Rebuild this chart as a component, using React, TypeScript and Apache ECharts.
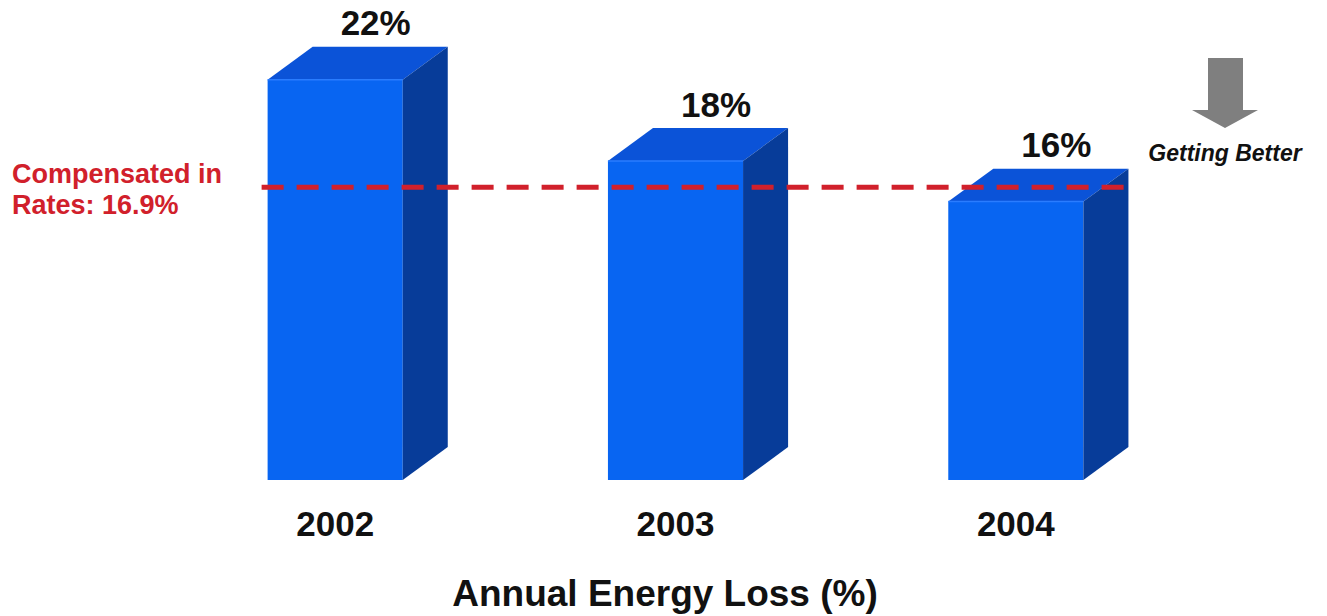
import React, { useEffect, useRef } from "react";
import * as echarts from "echarts";

const categories: string[] = ["2002", "2003", "2004"];
const lossValues: number[] = [22, 18, 16];
const compensatedRate: number = 16.9;
const yMin = 2.3;
const yMax = 24;

const FRONT = "#0865f2";
const TOP = "#0b53d8";
const SIDE = "#073c99";
const RED = "#d1202b";
const FONT = "'Liberation Sans', Arial, sans-serif";

export default function App() {
  const ref = useRef<HTMLDivElement>(null);

  useEffect(() => {
    if (!ref.current) return;
    const chart = echarts.init(ref.current, undefined, { renderer: "svg" });

    const barGeom = (api: any, idx: number, val: number) => {
      const top = api.coord([idx, val]);
      const bot = api.coord([idx, yMin]);
      const band = api.size([1, 0])[0];
      const w = band * 0.397;
      const dx = w / 3;
      const dy = dx * 0.73;
      return { cx: top[0], yT: top[1], yB: bot[1], w, dx, dy };
    };

    const option: any = {
      animation: false,
      backgroundColor: "#ffffff",
      grid: { left: 165, right: 141, top: 39, bottom: 136 },
      xAxis: {
        type: "category",
        data: categories,
        axisLine: { show: false },
        axisTick: { show: false },
        axisLabel: {
          margin: 26,
          fontSize: 35,
          fontWeight: "bold",
          color: "#111111",
          fontFamily: FONT,
        },
      },
      yAxis: {
        type: "value",
        min: yMin,
        max: yMax,
        show: false,
        splitLine: { show: false },
      },
      series: [
        {
          type: "custom",
          data: categories.map((c, i) => [i, lossValues[i]]),
          renderItem: (params: any, api: any) => {
            const idx = api.value(0);
            const val = api.value(1);
            const g = barGeom(api, idx, val);
            const x0 = g.cx - g.w / 2;
            const x1 = g.cx + g.w / 2;
            return {
              type: "group",
              children: [
                {
                  type: "rect",
                  shape: { x: x0, y: g.yT, width: g.w, height: g.yB - g.yT },
                  style: { fill: FRONT },
                },
                {
                  type: "polygon",
                  shape: {
                    points: [
                      [x0, g.yT],
                      [x1, g.yT],
                      [x1 + g.dx, g.yT - g.dy],
                      [x0 + g.dx, g.yT - g.dy],
                    ],
                  },
                  style: { fill: TOP },
                },
                {
                  type: "polygon",
                  shape: {
                    points: [
                      [x1, g.yT],
                      [x1 + g.dx, g.yT - g.dy],
                      [x1 + g.dx, g.yB - g.dy],
                      [x1, g.yB],
                    ],
                  },
                  style: { fill: SIDE },
                },
                {
                  type: "line",
                  shape: { x1: x0, y1: g.yT, x2: x1, y2: g.yT },
                  style: { stroke: "#2a7cff", lineWidth: 1.5 },
                },
                {
                  type: "text",
                  style: {
                    x: g.cx + g.dx * 0.9,
                    y: g.yT - g.dy - 24,
                    text: val + "%",
                    fill: "#111111",
                    fontSize: 35,
                    fontWeight: "bold",
                    fontFamily: FONT,
                    align: "center",
                    verticalAlign: "middle",
                  },
                },
              ],
            };
          },
          z: 2,
        },
        {
          type: "custom",
          data: [[0, compensatedRate]],
          renderItem: (params: any, api: any) => {
            const val = api.value(1);
            const first = barGeom(api, 0, val);
            const last = barGeom(api, categories.length - 1, val);
            const xs = first.cx - first.w / 2 - 6;
            const xe = last.cx + last.w / 2 + last.dx;
            return {
              type: "line",
              shape: { x1: xs, y1: first.yT + 4, x2: xe, y2: first.yT + 4 },
              style: { stroke: RED, lineWidth: 5, lineDash: [22, 13] },
            };
          },
          z: 5,
        },
      ],
      graphic: [
        {
          type: "text",
          left: 12,
          top: 158,
          style: {
            text: "Compensated in\nRates: 16.9%",
            fill: RED,
            fontSize: 27,
            lineHeight: 31,
            fontWeight: "bold",
            fontFamily: FONT,
          },
        },
        {
          type: "text",
          x: 1225,
          y: 153,
          style: {
            text: "Getting Better",
            fill: "#111111",
            fontSize: 23,
            fontWeight: "bold",
            fontStyle: "italic",
            fontFamily: FONT,
            align: "center",
            verticalAlign: "middle",
          },
        },
        {
          type: "polygon",
          shape: {
            points: [
              [1208, 58],
              [1243, 58],
              [1243, 110],
              [1258, 110],
              [1225, 128],
              [1192, 110],
              [1208, 110],
            ],
          },
          style: { fill: "#7f7f7f" },
        },
        {
          type: "text",
          x: 665,
          y: 593,
          style: {
            text: "Annual Energy Loss (%)",
            fill: "#111111",
            fontSize: 37,
            fontWeight: "bold",
            fontFamily: FONT,
            align: "center",
            verticalAlign: "middle",
          },
        },
      ],
    };

    chart.setOption(option);
    return () => chart.dispose();
  }, []);

  return (
    <div
      ref={ref}
      style={{ position: "fixed", left: 0, top: 0, width: 1327, height: 616 }}
    />
  );
}
